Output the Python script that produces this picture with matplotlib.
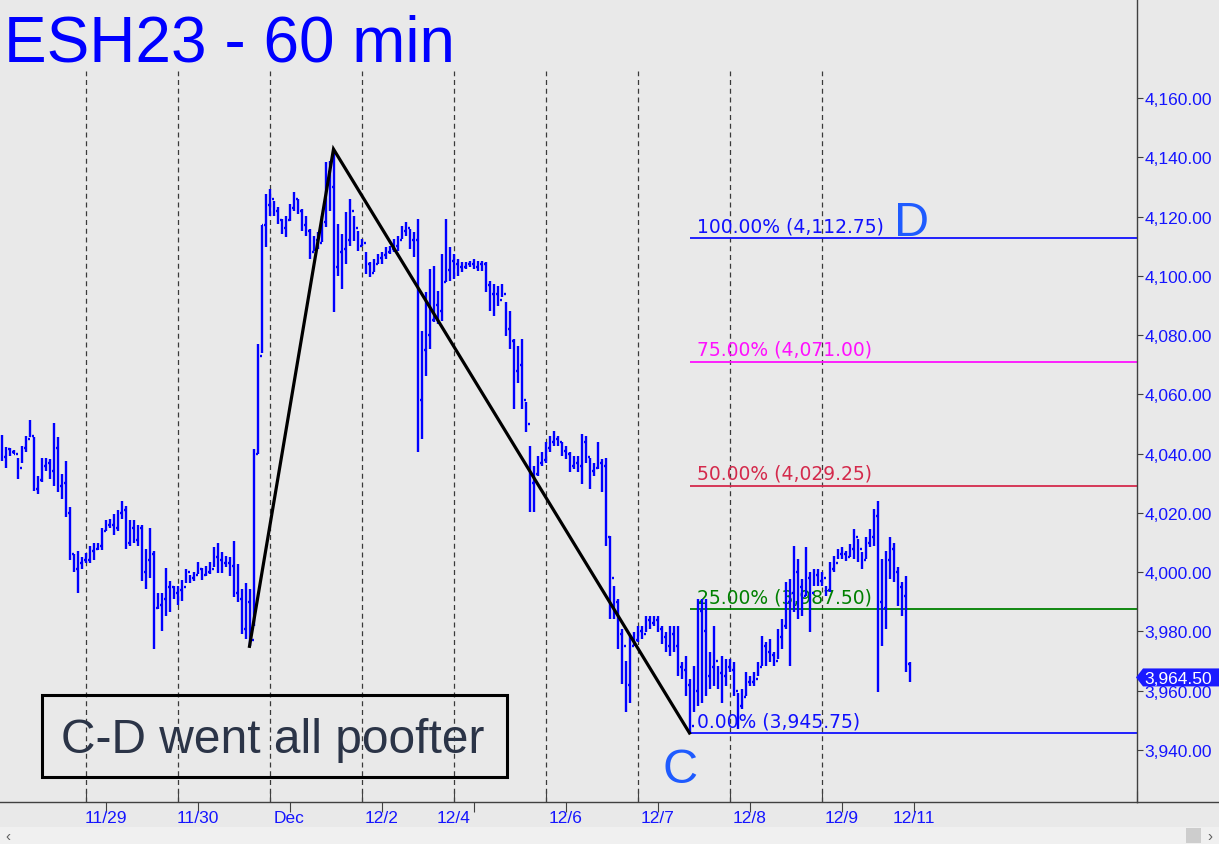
import matplotlib
matplotlib.use("Agg")
import matplotlib.pyplot as plt
import matplotlib.transforms as mtransforms
from matplotlib.collections import LineCollection
from matplotlib.lines import Line2D
from matplotlib.patches import Polygon, Rectangle

plt.rcParams["font.family"] = ["Liberation Sans", "DejaVu Sans"]

# 60 min bars, oldest first (high / low / close)
highs = [
    4046.3, 4042.1, 4041.8, 4041.3, 4038.7, 4042.7, 4046.0, 4051.3, 4045.5, 4032.5,
    4038.4, 4038.7, 4038.2, 4050.5, 4045.5, 4033.1, 4037.6, 4022.0, 4006.0, 4007.0,
    4005.0, 4006.5, 4009.0, 4010.0, 4010.0, 4015.0, 4017.5, 4018.0, 4019.5, 4021.0,
    4024.0, 4022.5, 4017.5, 4017.5, 4016.0, 4016.0, 4008.0, 4015.0, 4007.0, 3993.0,
    3993.0, 4001.5, 3997.0, 3995.5, 3995.5, 3997.5, 4001.0, 3999.0, 4000.0, 4003.5,
    4001.5, 4002.0, 4003.5, 4008.4, 4010.0, 4006.7, 4005.5, 4005.0, 4010.6, 4002.7,
    3994.3, 3996.5, 3994.3, 4041.6, 4077.0, 4117.2, 4127.6, 4129.3, 4125.4, 4123.1,
    4119.2, 4120.3, 4124.2, 4128.2, 4126.0, 4122.5, 4120.3, 4115.8, 4113.5, 4114.7,
    4120.3, 4138.3, 4138.9, 4142.2, 4117.5, 4114.1, 4121.4, 4126.0, 4120.3, 4115.2,
    4112.4, 4107.9, 4104.5, 4105.7, 4107.4, 4108.0, 4109.6, 4110.2, 4112.4, 4113.5,
    4116.9, 4118.0, 4115.8, 4114.7, 4119.2, 4081.5, 4094.4, 4102.3, 4103.4, 4095.0,
    4107.4, 4119.2, 4109.6, 4107.4, 4105.7, 4104.5, 4104.5, 4105.1, 4105.7, 4105.1,
    4105.1, 4104.5, 4098.4, 4097.2, 4096.7, 4097.2, 4091.0, 4088.2, 4078.7, 4076.4,
    4078.7, 4057.3, 4042.7, 4036.0, 4039.3, 4040.4, 4043.8, 4046.0, 4047.8, 4046.0,
    4043.8, 4042.7, 4040.4, 4039.3, 4039.3, 4046.6, 4046.0, 4038.7, 4037.0, 4043.8,
    4038.2, 4038.7, 4012.3, 3995.4, 3990.9, 3980.8, 3970.2, 3978.6, 3979.7, 3981.9,
    3981.9, 3985.3, 3985.3, 3985.3, 3985.3, 3982.0, 3979.7, 3982.0, 3982.0, 3982.0,
    3969.6, 3971.8, 3964.0, 3968.5, 3990.9, 3990.9, 3990.9, 3973.0, 3982.0, 3968.5,
    3971.8, 3970.7, 3970.7, 3969.6, 3959.4, 3960.6, 3966.2, 3965.1, 3966.2, 3969.6,
    3978.6, 3976.3, 3977.4, 3973.0, 3980.8, 3984.2, 3996.6, 3997.7, 4008.9, 4004.4,
    3997.7, 4008.4, 4000.0, 4001.1, 4001.1, 4000.0, 3995.5, 4003.3, 4005.6, 4007.8,
    4008.4, 4007.3, 4009.5, 4014.6, 4011.2, 4006.7, 4011.8, 4014.6, 4021.3, 4024.1,
    4004.5, 4007.3, 4011.8, 4010.0, 4001.6, 3996.6, 3998.8, 3969.6,
]
lows = [
    4037.6, 4035.3, 4039.3, 4039.8, 4031.4, 4037.0, 4040.4, 4045.5, 4027.5, 4026.3,
    4030.5, 4034.2, 4031.4, 4029.2, 4026.9, 4024.7, 4018.5, 4004.0, 4000.0, 3993.0,
    4001.0, 4003.0, 4003.0, 4004.0, 4007.5, 4007.5, 4014.0, 4015.0, 4012.5, 4014.0,
    4018.0, 4008.0, 4009.0, 4010.0, 4009.0, 3997.0, 3994.5, 3998.0, 3974.0, 3987.5,
    3980.0, 3985.3, 3986.5, 3991.0, 3989.0, 3990.3, 3996.5, 3996.5, 3997.0, 3999.3,
    3997.5, 3998.8, 3999.4, 4001.6, 3999.9, 3999.9, 4001.6, 3998.8, 3991.5, 3989.8,
    3979.1, 3977.4, 3975.0, 3982.0, 4040.0, 4074.0, 4109.6, 4120.3, 4120.3, 4117.5,
    4114.0, 4113.0, 4118.6, 4122.0, 4120.9, 4115.2, 4113.5, 4105.7, 4108.5, 4109.1,
    4111.3, 4116.4, 4122.0, 4087.7, 4100.0, 4095.5, 4104.0, 4110.2, 4111.9, 4108.5,
    4110.2, 4100.6, 4099.5, 4101.2, 4104.0, 4104.0, 4105.7, 4107.4, 4107.9, 4108.5,
    4112.4, 4113.5, 4109.1, 4106.2, 4040.4, 4044.9, 4066.3, 4075.3, 4084.3, 4083.7,
    4084.9, 4097.8, 4098.4, 4098.9, 4100.0, 4101.2, 4102.3, 4102.9, 4102.3, 4101.7,
    4101.7, 4094.4, 4088.2, 4086.5, 4089.9, 4092.7, 4079.8, 4075.3, 4055.0, 4064.0,
    4055.0, 4047.2, 4020.2, 4020.2, 4032.6, 4036.0, 4037.0, 4040.4, 4042.7, 4042.7,
    4039.3, 4038.2, 4033.7, 4034.8, 4033.7, 4029.8, 4037.0, 4028.1, 4032.6, 4034.8,
    4026.9, 4008.9, 3984.2, 3984.2, 3974.0, 3962.3, 3952.7, 3956.0, 3975.2, 3976.3,
    3977.4, 3979.7, 3980.8, 3982.0, 3979.7, 3975.8, 3973.0, 3971.8, 3973.0, 3965.0,
    3964.0, 3958.3, 3945.75, 3952.7, 3955.0, 3956.0, 3958.3, 3960.6, 3961.7, 3960.6,
    3956.0, 3961.7, 3966.2, 3958.3, 3947.1, 3953.8, 3958.3, 3961.7, 3961.7, 3965.1,
    3968.5, 3968.5, 3969.6, 3968.5, 3970.7, 3974.0, 3980.8, 3968.5, 3986.5, 3984.2,
    3985.3, 3992.0, 3979.7, 3995.5, 3995.5, 3995.5, 3992.0, 3993.2, 4000.0, 4004.4,
    4004.4, 4003.9, 4005.0, 4004.5, 4003.3, 4001.1, 4004.5, 4008.4, 4009.0, 3959.5,
    3975.2, 3980.8, 3997.7, 3996.6, 3988.7, 3985.3, 3966.2, 3962.8,
]
closes = [
    4039.0, 4041.5, 4040.5, 4040.0, 4035.0, 4042.0, 4045.0, 4046.0, 4028.0, 4031.0,
    4036.0, 4037.0, 4034.0, 4042.0, 4029.0, 4030.0, 4020.0, 4006.0, 4001.0, 4003.0,
    4004.0, 4004.0, 4007.0, 4008.0, 4009.0, 4014.0, 4016.0, 4016.0, 4015.0, 4020.0,
    4021.0, 4010.0, 4015.0, 4011.0, 4015.0, 4000.0, 4004.0, 4006.0, 3988.0, 3989.0,
    3991.0, 3995.0, 3995.0, 3993.0, 3994.0, 3995.0, 4000.0, 3998.0, 3999.0, 4001.0,
    3999.0, 4000.0, 4001.0, 4005.0, 4004.0, 4003.0, 4003.0, 4002.0, 3993.0, 3991.0,
    3981.0, 3990.0, 3977.0, 4040.0, 4073.0, 4117.0, 4124.0, 4126.0, 4122.0, 4119.0,
    4116.0, 4119.0, 4123.0, 4126.0, 4122.0, 4117.0, 4115.0, 4108.0, 4112.0, 4111.0,
    4118.0, 4135.0, 4130.0, 4103.0, 4108.0, 4109.0, 4112.0, 4122.0, 4116.0, 4110.0,
    4111.0, 4104.0, 4101.0, 4104.0, 4106.0, 4107.0, 4108.0, 4109.0, 4110.0, 4112.0,
    4115.0, 4116.0, 4112.0, 4112.0, 4058.0, 4075.0, 4080.0, 4085.0, 4090.0, 4088.0,
    4098.0, 4102.0, 4105.0, 4104.0, 4103.0, 4103.0, 4104.0, 4104.0, 4103.0, 4104.0,
    4104.0, 4097.0, 4094.0, 4094.0, 4092.0, 4094.0, 4082.0, 4078.0, 4068.0, 4070.0,
    4058.0, 4050.0, 4030.0, 4033.0, 4037.0, 4038.0, 4042.0, 4044.0, 4045.0, 4044.0,
    4041.0, 4040.0, 4036.0, 4037.0, 4036.0, 4044.0, 4039.0, 4034.0, 4035.0, 4037.0,
    4036.0, 4012.0, 3998.0, 3990.0, 3979.0, 3975.0, 3962.0, 3975.0, 3977.0, 3980.0,
    3979.0, 3984.0, 3983.0, 3984.0, 3981.0, 3978.0, 3975.0, 3979.0, 3975.0, 3968.0,
    3967.0, 3962.0, 3948.0, 3960.0, 3987.0, 3980.0, 3965.0, 3968.0, 3970.0, 3966.0,
    3965.0, 3968.0, 3967.0, 3960.0, 3955.0, 3958.0, 3963.0, 3963.0, 3964.0, 3968.0,
    3975.0, 3973.0, 3972.0, 3970.0, 3978.0, 3982.0, 3990.0, 3993.0, 4000.0, 3995.0,
    3992.0, 3998.0, 3993.0, 3999.0, 3997.0, 3998.0, 3994.0, 4001.0, 4003.0, 4006.0,
    4006.0, 4005.0, 4008.0, 4012.0, 4008.0, 4004.0, 4010.0, 4012.0, 4019.0, 3990.0,
    3988.0, 4004.0, 4008.0, 4000.0, 3995.0, 3992.0, 3969.0, 3964.5,
]

session_breaks = [21, 44, 67, 90, 113, 136, 159, 182, 205]
date_ticks = [26, 49, 72, 95, 118, 141, 164, 187, 210, 228]
date_label_pos = [26, 49, 72, 95, 113, 141, 164, 187, 210, 228]
date_labels = ["11/29", "11/30", "Dec", "12/2", "12/4", "12/6", "12/7", "12/8", "12/9", "12/11"]
price_ticks = list(range(3940, 4161, 20))

cd_index = [62, 83, 172]
cd_price = [3975.0, 4142.75, 3945.75]

fib_pct = ["100.00%", "75.00%", "50.00%", "25.00%", "0.00%"]
fib_level = [4112.75, 4071.00, 4029.25, 3987.50, 3945.75]
fib_color = ["#1010FF", "#FF10FF", "#D42A4C", "#008000", "#1010FF"]

W, H = 1219, 845
BG = "#E9E9E9"
BLUE = "#0000FF"
LABEL_BLUE = "#1515FF"
AXIS = "#404040"
XMAX = 283.875

fig = plt.figure(figsize=(W / 100, H / 100), dpi=100, facecolor=BG)
ax = fig.add_axes([0, 42 / H, 1137 / W, 803 / H])
ax.set_facecolor(BG)
ax.set_xlim(-0.375, XMAX)
ax.set_ylim(3922.47, 4193.4)

# OHLC bars, open tick drawn at the prior close
segs = []
for i, (h, l, c) in enumerate(zip(highs, lows, closes)):
    segs.append([(i, l), (i, h)])
    segs.append([(i, c), (i + 0.45, c)])
    if i > 0:
        segs.append([(i - 0.45, closes[i - 1]), (i, closes[i - 1])])
ax.add_collection(LineCollection(segs, colors=BLUE, linewidths=1.7, capstyle="butt",
                                 zorder=3))

for x in session_breaks:
    ax.axvline(x, ymin=0, ymax=1 - 72 / 803, color="#3a3a3a", lw=0.9,
               ls=(0, (4, 3)), zorder=1)

# fib retracement levels from C
for pct, lvl, col in zip(fib_pct, fib_level, fib_color):
    ax.hlines(lvl, cd_index[-1], XMAX, colors=col, lw=1.3, zorder=2)
    ax.annotate(f"{pct} ({lvl:,.2f})", xy=(cd_index[-1], lvl), xytext=(5.5, 5),
                textcoords="offset points", color=col, fontsize=13.5,
                family="DejaVu Sans", va="baseline", ha="left", zorder=2)

ax.plot(cd_index, cd_price, color="black", lw=2.3, solid_joinstyle="miter", zorder=4)

ax.text(223.0, 4113.8, "D", color="#1F5BFF", fontsize=35, va="baseline", zorder=4)
ax.text(165.3, 3929.2, "C", color="#1F5BFF", fontsize=35, va="baseline", zorder=4)

for side in ["left", "top"]:
    ax.spines[side].set_visible(False)
for side in ["right", "bottom"]:
    ax.spines[side].set_color(AXIS)
    ax.spines[side].set_linewidth(1.0)

ax.yaxis.tick_right()
ax.set_yticks(price_ticks)
ax.set_yticklabels([f"{p:,.2f}" for p in price_ticks])
ax.tick_params(axis="y", direction="out", length=4, width=0.8, color=AXIS,
               labelcolor=LABEL_BLUE, labelsize=12.5, pad=1.5)

ax.set_xticks(date_ticks)
ax.set_xticklabels([])
ax.set_xticks(session_breaks + [XMAX], minor=True)
ax.tick_params(axis="x", which="major", direction="out", length=7, width=0.8, color=AXIS)
ax.tick_params(axis="x", which="minor", direction="in", length=8, width=0.8, color=AXIS)

trans = mtransforms.blended_transform_factory(ax.transData, ax.transAxes)
for pos, lab in zip(date_label_pos, date_labels):
    ax.text(pos, -0.01, lab, transform=trans, ha="center", va="top",
            color=LABEL_BLUE, fontsize=12.5, clip_on=False)

# bottom axis line under the price scale
fig.add_artist(Line2D([1137 / W, 1], [1 - 803 / H] * 2, transform=fig.transFigure,
                      color=AXIS, lw=1.0))

fig.text(4 / W, 1 - 61 / H, "ESH23 - 60 min", color=BLUE, fontsize=46, va="baseline")

fig.add_artist(Rectangle((42 / W, 1 - 778 / H), 465 / W, 82 / H, transform=fig.transFigure,
                         fill=False, edgecolor="black", lw=2.2))
fig.text(61 / W, 1 - 753 / H, "C-D went all poofter", color="#2B3447", fontsize=34.5,
         va="baseline")

# last price tag
ident = mtransforms.IdentityTransform()
y_tag = ax.transData.transform((0, closes[-1]))[1]
fig.add_artist(Polygon([(1136, y_tag), (1143, y_tag + 9), (1219, y_tag + 9),
                        (1219, y_tag - 9), (1143, y_tag - 9)], closed=True,
                       transform=ident, facecolor="#1A1AFF", edgecolor="none"))
fig.text(1144, y_tag, f"{closes[-1]:,.2f}", transform=ident, color="white",
         fontsize=12.5, va="center_baseline", ha="left")

# scrollbar strip
fig.add_artist(Rectangle((0, 0), 1, 17 / H, transform=fig.transFigure,
                         facecolor="#F0F0F0", edgecolor="none"))
fig.add_artist(Rectangle((1186 / W, 1 / H), 15 / W, 15 / H, transform=fig.transFigure,
                         facecolor="#CDCDCD", edgecolor="none"))
fig.text(8 / W, 8 / H, "\u2039", color="#606060", fontsize=11, ha="center", va="center")
fig.text(1210 / W, 8 / H, "\u203a", color="#606060", fontsize=11, ha="center", va="center")

fig.savefig("out.png", dpi=100, facecolor=BG)
